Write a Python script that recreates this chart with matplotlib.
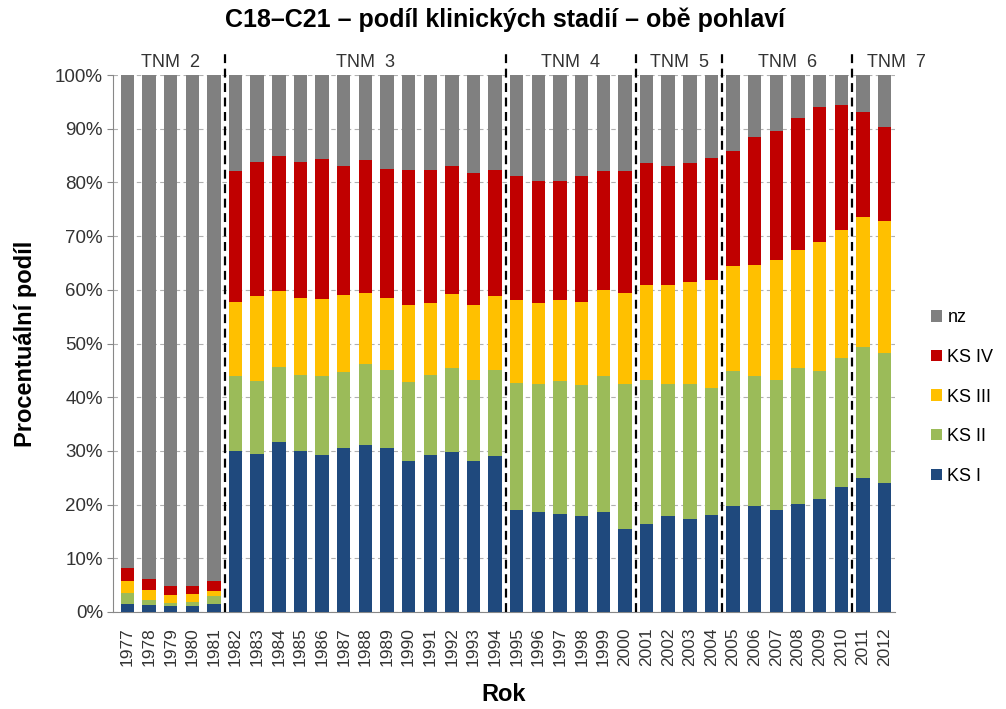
import numpy as np
import matplotlib
matplotlib.use('Agg')
import matplotlib.pyplot as plt
from matplotlib.patches import Patch

plt.rcParams['font.family'] = ['Liberation Sans', 'DejaVu Sans']

years = list(range(1977, 2013))

ks1 = [1.4, 1.2, 1.0, 1.0, 1.4,
       29.9, 29.4, 31.6, 29.9, 29.2, 30.6, 31.1, 30.6, 28.2, 29.2, 29.7, 28.2, 29.0,
       18.9, 18.7, 18.2, 17.8, 18.7, 15.5,
       16.3, 17.8, 17.3, 18.0,
       19.7, 19.7, 18.9, 20.1, 21.0, 23.3,
       25.0, 24.1]
ks2 = [2.1, 1.0, 0.7, 0.9, 1.5,
       14.0, 13.7, 14.0, 14.3, 14.7, 14.1, 15.0, 14.5, 14.6, 15.0, 15.7, 15.0, 16.1,
       23.8, 23.8, 24.8, 24.5, 25.2, 27.0,
       26.9, 24.7, 25.2, 23.8,
       25.2, 24.2, 24.3, 25.3, 23.9, 24.0,
       24.4, 24.1]
ks3 = [2.3, 1.9, 1.4, 1.5, 1.0,
       13.9, 15.7, 14.1, 14.3, 14.4, 14.3, 13.4, 13.4, 14.3, 13.4, 13.8, 13.9, 13.7,
       15.4, 15.1, 15.1, 15.5, 16.1, 17.0,
       17.7, 18.4, 18.9, 20.0,
       19.6, 20.8, 22.4, 22.0, 24.1, 23.9,
       24.1, 24.6]
ks4 = [2.3, 2.0, 1.8, 1.5, 1.9,
       24.4, 25.0, 25.3, 25.3, 26.0, 24.1, 24.6, 24.1, 25.3, 24.8, 23.9, 24.6, 23.6,
       23.1, 22.6, 22.1, 23.4, 22.2, 22.7,
       22.7, 22.2, 22.2, 22.7,
       21.4, 23.7, 24.0, 24.6, 25.1, 23.2,
       19.7, 17.5]
nz = [91.9, 93.9, 95.1, 95.1, 94.2,
      17.8, 16.2, 15.0, 16.2, 15.7, 16.9, 15.9, 17.4, 17.6, 17.6, 16.9, 18.3, 17.6,
      18.8, 19.8, 19.8, 18.8, 17.8, 17.8,
      16.4, 16.9, 16.4, 15.5,
      14.1, 11.6, 10.4, 8.0, 5.9, 5.6,
      6.8, 9.7]

series = ['KS I', 'KS II', 'KS III', 'KS IV', 'nz']
colors = ['#1F497D', '#9BBB59', '#FFC000', '#C00000', '#808080']

# TNM periods: label, first year, last year
tnm_labels = ['TNM  2', 'TNM  3', 'TNM  4', 'TNM  5', 'TNM  6', 'TNM  7']
tnm_start = [1977, 1982, 1995, 2001, 2005, 2011]
tnm_end = [1981, 1994, 2000, 2004, 2010, 2012]

fig = plt.figure(figsize=(10.06, 7.09), dpi=100)
ax = fig.add_axes([0.112, 0.137, 0.778, 0.757])

x = np.arange(len(years))
total = np.array(ks1) + np.array(ks2) + np.array(ks3) + np.array(ks4) + np.array(nz)
bottom = np.zeros(len(years))
for vals, name, col in zip([ks1, ks2, ks3, ks4, nz], series, colors):
    share = np.array(vals) / total * 100
    ax.bar(x, share, bottom=bottom, width=0.62, color=col, zorder=3, label=name)
    bottom += share

ax.set_xlim(-0.68, len(years) - 0.5)
ax.set_ylim(0, 100)
ax.set_yticks(np.arange(0, 101, 10))
ax.set_yticklabels([f'{v}%' for v in range(0, 101, 10)], fontsize=13.5, color='#333333')
ax.set_xticks(x)
ax.set_xticklabels([str(y) for y in years], rotation=90, fontsize=12.5, color='#333333')
ax.tick_params(axis='x', length=0, pad=11)
ax.tick_params(axis='y', length=4, color='#888888', pad=3)
ax.grid(axis='y', linestyle=(0, (4, 3)), color='#B0B0B0', linewidth=0.8, zorder=0)
for s in ['top', 'right']:
    ax.spines[s].set_visible(False)
for s in ['left', 'bottom']:
    ax.spines[s].set_color('#888888')

# period separators and labels
for i, (lab, a, b) in enumerate(zip(tnm_labels, tnm_start, tnm_end)):
    xa = years.index(a) - 0.5
    xb = years.index(b) + 0.5
    if i > 0:
        ax.plot([xa, xa], [0, 104.5], color='black', linestyle=(0, (4, 2.5)),
                linewidth=1.6, clip_on=False, zorder=5)
    xc = (xa + xb) / 2
    if i == len(tnm_labels) - 1:
        xc += 1.05  # last label sits to the right of the short period
    ax.text(xc, 102.3, lab, ha='center', va='center', fontsize=13, color='#333333')

ax.set_ylabel('Procentuální podíl', fontsize=17, fontweight='bold')
ax.yaxis.set_label_coords(-0.097, 0.5)
ax.set_xlabel('Rok', fontsize=17, fontweight='bold')
ax.xaxis.set_label_coords(0.5, -0.133)
fig.suptitle('C18–C21 – podíl klinických stadií – obě pohlaví', fontsize=18,
             fontweight='bold', x=0.502, y=0.99)

handles = [Patch(facecolor=c, edgecolor='none', label=n) for n, c in zip(series, colors)][::-1]
fig.legend(handles=handles, loc='center left', bbox_to_anchor=(0.913, 0.44),
           frameon=False, fontsize=13, handlelength=0.6, handleheight=0.6,
           handletextpad=0.3, labelspacing=1.25, borderpad=0.2)

fig.savefig('out.png', dpi=100)
